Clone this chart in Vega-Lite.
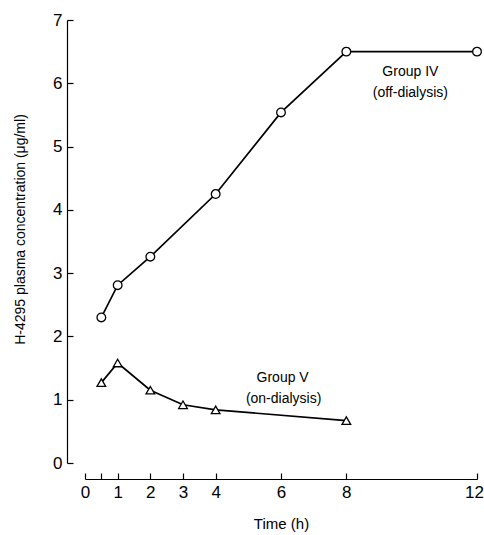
{
  "$schema": "https://vega.github.io/schema/vega-lite/v6.json",
  "width": 392,
  "height": 443,
  "autosize": "none",
  "padding": {"left": 85, "top": 20, "right": 7, "bottom": 72},
  "background": "white",
  "config": {
    "view": {"stroke": null},
    "font": "Liberation Sans",
    "axis": {
      "grid": false,
      "domainColor": "black",
      "domainWidth": 1.2,
      "tickColor": "black",
      "tickWidth": 1.2,
      "tickSize": -6,
      "labelColor": "black",
      "labelFont": "Liberation Sans",
      "labelFontSize": 17,
      "titleColor": "black",
      "titleFont": "Liberation Sans",
      "titleFontSize": 14,
      "titleFontWeight": "normal"
    }
  },
  "datasets": {
    "series": [
      {"group": "IV", "time": 0.5, "conc": 2.30},
      {"group": "IV", "time": 1, "conc": 2.81},
      {"group": "IV", "time": 2, "conc": 3.26},
      {"group": "IV", "time": 4, "conc": 4.25},
      {"group": "IV", "time": 6, "conc": 5.54},
      {"group": "IV", "time": 8, "conc": 6.50},
      {"group": "IV", "time": 12, "conc": 6.50},
      {"group": "V", "time": 0.5, "conc": 1.27},
      {"group": "V", "time": 1, "conc": 1.58},
      {"group": "V", "time": 2, "conc": 1.15},
      {"group": "V", "time": 3, "conc": 0.92},
      {"group": "V", "time": 4, "conc": 0.84},
      {"group": "V", "time": 8, "conc": 0.67}
    ],
    "notes": [
      {"label": "Group IV", "time": 9.96, "conc": 6.18},
      {"label": "(off-dialysis)", "time": 9.96, "conc": 5.84},
      {"label": "Group V", "time": 6.05, "conc": 1.35},
      {"label": "(on-dialysis)", "time": 6.08, "conc": 1.01}
    ]
  },
  "encoding": {
    "x": {
      "field": "time",
      "type": "quantitative",
      "scale": {"domain": [0, 12], "nice": false},
      "axis": {
        "title": "Time (h)",
        "titleFontSize": 15,
        "values": [0, 0.5, 1, 2, 3, 4, 6, 8, 12],
        "labelExpr": "datum.value == 0.5 ? '' : datum.label",
        "offset": 16,
        "labelPadding": 11,
        "labelFlush": false,
        "labelOffset": {"condition": {"test": "datum.value == 12", "value": -3}, "value": 0},
        "titleY": 44,
        "titleBaseline": "middle"
      }
    },
    "y": {
      "field": "conc",
      "type": "quantitative",
      "scale": {"domain": [0, 7], "nice": false},
      "axis": {
        "title": "H-4295 plasma concentration (μg/ml)",
        "values": [0, 1, 2, 3, 4, 5, 6, 7],
        "offset": 18,
        "labelPadding": 11,
        "labelFlush": false,
        "titleX": -47,
        "titleY": 209,
        "titleAngle": -90,
        "titleBaseline": "middle",
        "titleAlign": "center"
      }
    }
  },
  "layer": [
    {
      "data": {"name": "series"},
      "mark": {"type": "line", "color": "black", "strokeWidth": 1.7},
      "encoding": {"detail": {"field": "group"}}
    },
    {
      "data": {"name": "series"},
      "mark": {"type": "point", "filled": true, "fill": "white", "stroke": "black", "strokeWidth": 1.3, "size": 75, "opacity": 1},
      "encoding": {
        "shape": {
          "field": "group",
          "type": "nominal",
          "scale": {"domain": ["IV", "V"], "range": ["circle", "triangle-up"]},
          "legend": null
        }
      }
    },
    {
      "data": {"name": "notes"},
      "mark": {"type": "text", "font": "Liberation Sans", "fontSize": 14, "color": "black", "align": "center", "baseline": "middle"},
      "encoding": {"text": {"field": "label"}}
    }
  ]
}
